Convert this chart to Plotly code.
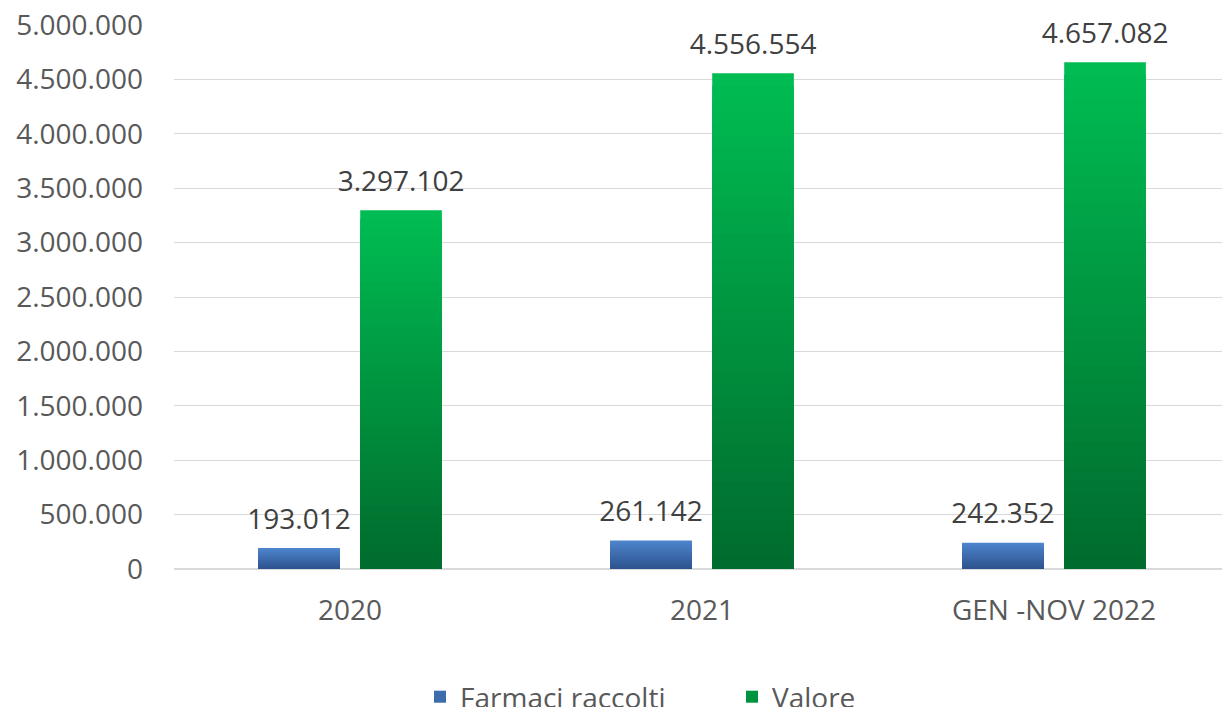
import plotly.graph_objects as go

categories = ["2020", "2021", "GEN -NOV 2022"]
farmaci = [193012, 261142, 242352]
valore = [3297102, 4556554, 4657082]
series_names = ["Farmaci raccolti", "Valore"]
tick_vals = [0, 500000, 1000000, 1500000, 2000000, 2500000, 3000000, 3500000, 4000000, 4500000, 5000000]


def fmt(v):
    return f"{v:,}".replace(",", ".")


def lerp(c1, c2, t):
    return "rgb(%d,%d,%d)" % tuple(round(a + (b - a) * t) for a, b in zip(c1, c2))


FONT = "Open Sans"
FS = 28
N = 40
LABEL_GAP = 75000  # spacing between bar top and its label
fig = go.Figure()

specs = [
    (series_names[0], farmaci, (44, 82, 140), (78, 133, 205), "f"),
    (series_names[1], valore, (0, 106, 44), (0, 188, 82), "v"),
]

for name, vals, dark, light, grp in specs:
    # nested bars from 0 to decreasing heights -> seamless vertical gradient
    for i in range(N):
        frac = (N - i) / N
        t = 1 - (i / N)
        fig.add_trace(go.Bar(
            x=categories,
            y=[v * frac for v in vals],
            offsetgroup=grp,
            marker=dict(color=lerp(dark, light, t), line=dict(width=0)),
            name=name,
            showlegend=False,
            hoverinfo="skip",
        ))
    # data labels
    fig.add_trace(go.Bar(
        x=categories,
        y=[LABEL_GAP for _ in vals],
        base=vals,
        offsetgroup=grp,
        marker=dict(color="rgba(0,0,0,0)", line=dict(width=0)),
        name=name,
        showlegend=False,
        text=[fmt(v) for v in vals],
        textposition="outside",
        constraintext="none",
        cliponaxis=False,
        hoverinfo="skip",
        textfont=dict(family=FONT, size=FS, color="#404040"),
    ))
    # legend entry
    fig.add_trace(go.Bar(
        x=[categories[0]],
        y=[None],
        offsetgroup=grp,
        marker=dict(color=lerp(dark, light, 0.5), line=dict(width=0)),
        name=name,
        showlegend=True,
    ))

fig.update_layout(
    width=1230, height=707,
    barmode="group",
    bargap=0.42,
    bargroupgap=0.2,
    separators=",.",
    paper_bgcolor="white",
    plot_bgcolor="white",
    margin=dict(l=166, r=8, t=17, b=146, autoexpand=False),
    font=dict(family=FONT, size=FS, color="#595959"),
    legend=dict(
        orientation="h", xref="container", x=412 / 1230, xanchor="left",
        yref="container", y=(707 - 689) / 707, yanchor="middle",
        font=dict(family=FONT, size=FS, color="#595959"),
        entrywidth=267, entrywidthmode="pixels",
        itemwidth=30, traceorder="normal",
    ),
)
fig.update_yaxes(
    range=[0, 5000000], tickvals=tick_vals,
    ticktext=[fmt(v) for v in tick_vals],
    showgrid=True, gridcolor="#D9D9D9", gridwidth=1,
    zeroline=True, zerolinecolor="#D9D9D9", zerolinewidth=2,
    ticks="", ticklabelstandoff=30, automargin=False,
    ticklabeloverflow="allow",
    tickfont=dict(family=FONT, size=FS, color="#595959"),
)
fig.update_xaxes(
    showline=False, ticks="", automargin=False,
    ticklabelstandoff=22, ticklabeloverflow="allow",
    tickfont=dict(family=FONT, size=FS, color="#595959"),
)

fig.write_html("out.html")
